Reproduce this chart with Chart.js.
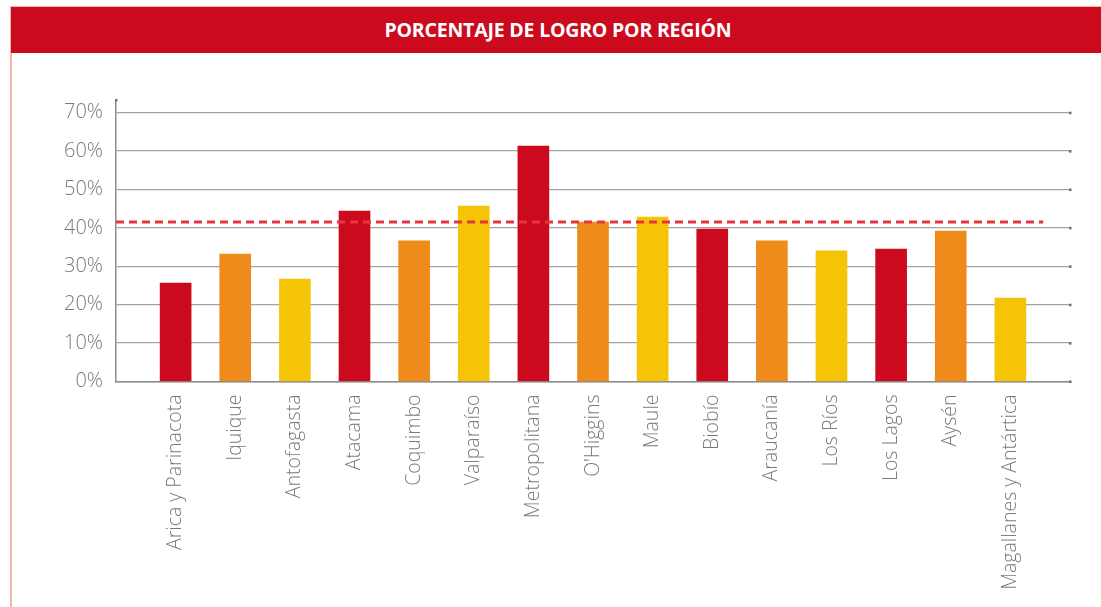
<!DOCTYPE html>
<html>
<head>
<meta charset="utf-8">
<script src="https://cdn.jsdelivr.net/npm/chart.js@4/dist/chart.umd.min.js"></script>
<style>
  html, body { margin: 0; padding: 0; background: #fff; }
  body { width: 1101px; height: 607px; position: relative; overflow: hidden; }
  #frame { position: absolute; left: 10px; top: 6px; width: 1091px; height: 601px;
           border-left: 2px solid #f2b7a6; border-top: 1px solid #f2b7a6; box-sizing: border-box; }
  #title { position: absolute; left: 11px; top: 7px; width: 1090px; height: 46px; background: #cc0a1e;
           color: #fff; font-family: "Open Sans", sans-serif; font-weight: 700; font-size: 19.5px;
           letter-spacing: -0.2px; line-height: 46px; text-align: center; text-indent: 4px; z-index: 2; }
  #wrap { position: absolute; left: 0; top: 0; width: 1101px; height: 607px; }
</style>
</head>
<body>
<div id="frame"></div>
<div id="title">PORCENTAJE DE LOGRO POR REGIÓN</div>
<div id="wrap"><canvas id="c" width="1101" height="607"></canvas></div>
<script>
const categories = ["Arica y Parinacota", "Iquique", "Antofagasta", "Atacama", "Coquimbo", "Valparaíso",
  "Metropolitana", "O'Higgins", "Maule", "Biobío", "Araucanía", "Los Ríos", "Los Lagos", "Aysén",
  "Magallanes y Antártica"];
const logro = [25.6, 33.2, 26.7, 44.4, 36.6, 45.7, 61.3, 41.5, 42.8, 39.7, 36.6, 34.0, 34.5, 39.2, 21.7];
const promedio = 41.5;
const yTicks = [0, 10, 20, 30, 40, 50, 60, 70];
const palette = ["#cc0a1e", "#ef8b1b", "#f6c407"];

const barColors = categories.map((c, i) => palette[i % 3]);
const barData = categories.map((c, i) => ({ x: i + 1, y: logro[i] }));
const lineData = [{ x: 0, y: promedio }, { x: categories.length + 0.55, y: promedio }];

const endDots = {
  id: 'endDots',
  afterDraw(chart) {
    const ctx = chart.ctx, y = chart.scales.y, a = chart.chartArea;
    ctx.save();
    ctx.fillStyle = '#6f6f6f';
    yTicks.forEach(v => {
      const py = y.getPixelForValue(v);
      ctx.fillRect(a.right - 1, py - 1, 2.5, 2.5);
    });
    ctx.fillRect(a.left - 1, a.top - 1, 2.5, 2.5);
    ctx.restore();
  }
};

new Chart(document.getElementById('c'), {
  type: 'bar',
  data: {
    datasets: [
      { type: 'line', data: lineData, borderColor: '#e6353d', borderWidth: 3, borderDash: [8, 5],
        pointRadius: 0, fill: false, order: 0 },
      { type: 'bar', data: barData, backgroundColor: barColors, barThickness: 31, order: 1 }
    ]
  },
  options: {
    responsive: false,
    animation: false,
    events: [],
    layout: { padding: { left: 0, right: 31, top: 100, bottom: 0 } },
    plugins: { legend: { display: false }, tooltip: { enabled: false }, title: { display: false } },
    scales: {
      x: {
        type: 'linear', min: 0, max: 16, offset: false,
        grid: { display: false, drawTicks: false, offset: false },
        border: { display: true, color: '#8c8c8c', width: 1.5 },
        afterBuildTicks(scale) { scale.ticks = categories.map((c, i) => ({ value: i + 1 })); },
        afterFit(scale) { scale.height = 225.5; },
        ticks: {
          autoSkip: false, minRotation: 90, maxRotation: 90, padding: 13,
          color: '#7a7a7a', font: { family: 'Open Sans', weight: 300, size: 19.5 },
          callback: (v) => categories[v - 1]
        }
      },
      y: {
        min: 0, max: 73.3,
        afterBuildTicks(scale) { scale.ticks = yTicks.map(v => ({ value: v })); },
        afterFit(scale) { scale.width = 116; },
        grid: { color: '#a3a3a3', lineWidth: 1.2, drawTicks: false },
        border: { display: true, color: '#8c8c8c', width: 1.5 },
        ticks: {
          padding: 13, color: '#7a7a7a', font: { family: 'Open Sans', weight: 300, size: 20 },
          callback: (v) => v + '%'
        }
      }
    }
  },
  plugins: [endDots]
});
</script>
</body>
</html>
